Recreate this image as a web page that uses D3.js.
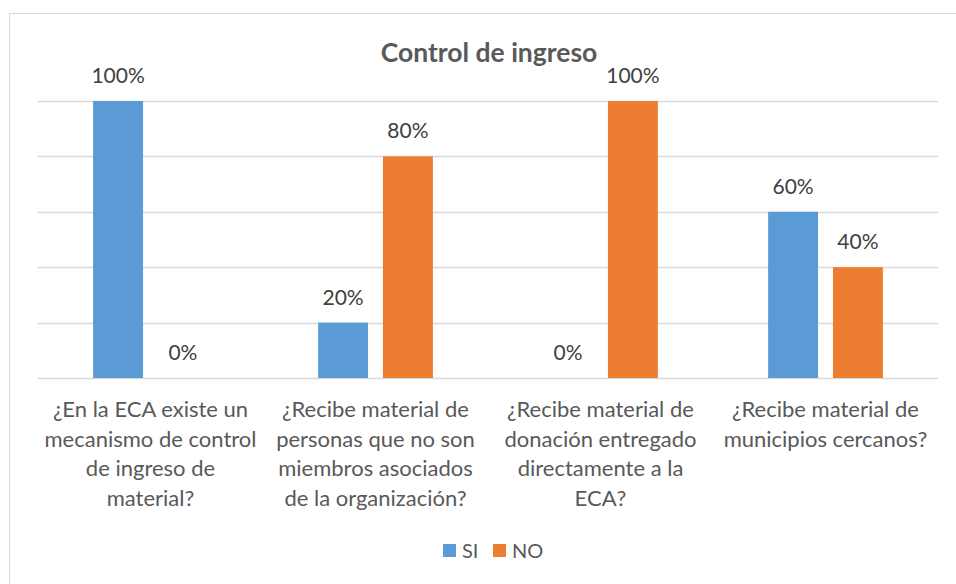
<html>
<head>
<meta charset="utf-8">
<script src="https://d3js.org/d3.v7.min.js"></script>
<style>
  body { margin: 0; background: white; font-family: Lato, "Open Sans", sans-serif; }
</style>
</head>
<body>
<script>
// chart data
var categories = [
    "¿En la ECA existe un|mecanismo de control|de ingreso de|material?",
    "¿Recibe material de|personas que no son|miembros asociados|de la organización?",
    "¿Recibe material de|donación entregado|directamente a la|ECA?",
    "¿Recibe material de|municipios cercanos?"
];
var seriesNames = ["SI", "NO"];
var siValues = [100, 20, 0, 60];
var noValues = [0, 80, 100, 40];
var yTicks = [0, 20, 40, 60, 80, 100];

var colors = { SI: "#5B9BD5", NO: "#ED7D31" };

var width = 956, height = 584;
var svg = d3.select("body").append("svg")
    .attr("width", width)
    .attr("height", height);

// chart border
svg.append("rect")
    .attr("x", 9.5).attr("y", 13.5)
    .attr("width", 960).attr("height", 600)
    .attr("fill", "white")
    .attr("stroke", "#d9d9d9");

var plotLeft = 38, plotRight = 938, plotTop = 101, plotBottom = 378;

var x = d3.scaleBand().domain(d3.range(categories.length)).range([plotLeft, plotRight]);
var x1 = d3.scaleBand().domain(seriesNames).range([0, x.bandwidth()]).paddingInner(0.23).paddingOuter(0.85);
var y = d3.scaleLinear().domain([0, 100]).range([plotBottom, plotTop]);

// gridlines
svg.append("g").selectAll("line")
    .data(yTicks)
    .enter().append("line")
    .attr("x1", plotLeft).attr("x2", plotRight)
    .attr("y1", d => Math.round(y(d)) + 0.5)
    .attr("y2", d => Math.round(y(d)) + 0.5)
    .attr("stroke", "#d9d9d9")
    .attr("stroke-width", 1.3);

var rows = [];
categories.forEach(function(c, i) {
    rows.push({ i: i, s: "SI", v: siValues[i] });
    rows.push({ i: i, s: "NO", v: noValues[i] });
});

svg.append("g").selectAll("rect")
    .data(rows)
    .enter().append("rect")
    .attr("x", d => x(d.i) + x1(d.s))
    .attr("width", x1.bandwidth())
    .attr("y", d => y(d.v))
    .attr("height", d => y(0) - y(d.v))
    .attr("fill", d => colors[d.s]);

// data labels
svg.append("g").selectAll("text")
    .data(rows)
    .enter().append("text")
    .attr("x", d => x(d.i) + x1(d.s) + x1.bandwidth() / 2)
    .attr("y", d => y(d.v) - 18)
    .attr("text-anchor", "middle")
    .attr("font-size", "21px")
    .attr("fill", "#404040")
    .text(d => d.v + "%");

// category labels
var catG = svg.append("g");
categories.forEach(function(c, i) {
    var t = catG.append("text")
        .attr("text-anchor", "middle")
        .attr("font-size", "22px")
        .attr("fill", "#595959");
    c.split("|").forEach(function(line, k) {
        t.append("tspan")
            .attr("x", x(i) + x.bandwidth() / 2)
            .attr("y", 417 + k * 29.5)
            .text(line);
    });
});

// title
svg.append("text")
    .attr("x", 489).attr("y", 62)
    .attr("text-anchor", "middle")
    .attr("font-size", "26.5px")
    .attr("font-weight", "bold")
    .attr("fill", "#595959")
    .text("Control de ingreso");

// legend
var legX = [443, 493];
var leg = svg.append("g");
seriesNames.forEach(function(s, i) {
    leg.append("rect")
        .attr("x", legX[i]).attr("y", 544)
        .attr("width", 13).attr("height", 13)
        .attr("fill", colors[s]);
    leg.append("text")
        .attr("x", legX[i] + 19).attr("y", 558)
        .attr("font-size", "20px")
        .attr("fill", "#595959")
        .text(s);
});
</script>
</body>
</html>
